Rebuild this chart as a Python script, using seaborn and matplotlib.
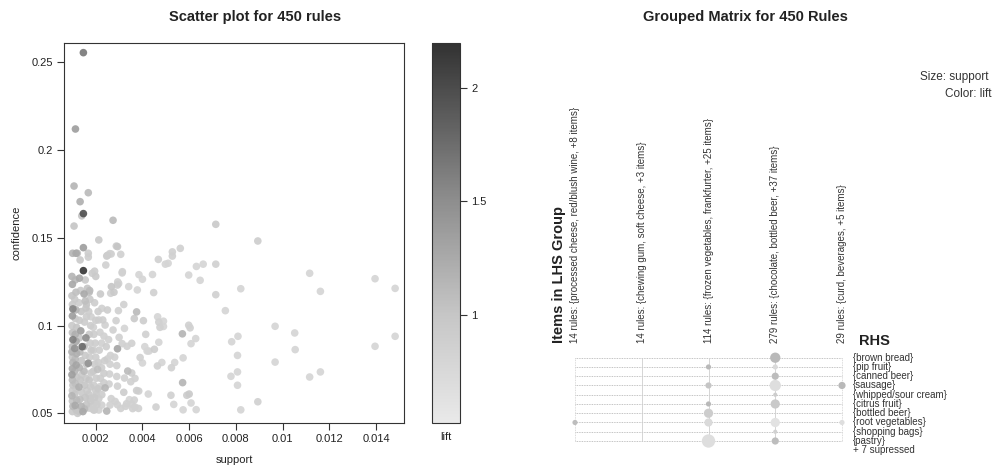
import numpy as np
import pandas as pd
import matplotlib
matplotlib.use("Agg")
import matplotlib.pyplot as plt
import matplotlib.colors as mcolors
from matplotlib.transforms import blended_transform_factory
import seaborn as sns

sns.set_theme(style="white")
plt.rcParams["font.family"] = ["Liberation Sans", "DejaVu Sans"]

# ---------------- scatter data (support x 1e-3, confidence, lift) ----------------
support_k = [
    1.47, 1.13, 1.07, 1.68, 1.33, 1.47, 1.40, 1.07, 2.74, 7.14, 8.94, 2.13, 1.47, 2.93, 1.01, 1.16,
    1.21, 1.68, 1.68, 1.33, 2.47, 2.66, 3.07, 5.28, 5.62, 5.28, 4.68, 5.10, 4.98, 6.31, 6.60, 7.14,
    5.98, 6.47, 7.14, 8.21, 11.16, 11.62, 13.96, 14.82, 7.55, 9.68, 10.52, 14.82, 13.96, 10.54, 9.68,
    11.16, 11.62, 8.09, 7.82, 8.07, 8.07, 7.79, 8.07, 8.21, 8.94, 5.98, 6.04, 5.71, 6.08, 6.28, 5.74,
    5.38, 5.24, 5.72, 6.00, 5.90, 6.08, 6.30, 5.74, 5.34, 5.22, 4.58, 4.25, 3.75, 3.68, 3.58, 3.44,
    3.32,
    3.85, 4.43, 4.00, 4.48, 3.78, 3.41, 3.13, 2.94, 2.78, 2.67, 3.75, 3.65, 4.04, 4.14, 4.65, 4.70,
    4.90, 4.75, 4.90, 4.51, 4.70, 4.83, 4.64, 4.00, 3.90, 4.28, 4.20, 4.10, 3.54, 3.34, 3.13, 2.93,
    3.00, 3.23, 2.74, 2.87, 2.97, 2.50, 2.30, 2.13, 2.18, 2.26, 2.40, 2.50, 2.63, 2.81, 2.90, 2.61,
    2.38, 2.11, 2.08, 2.35, 2.59, 2.90, 3.23, 3.37, 3.54, 3.68, 3.50, 3.84, 3.20, 2.93, 2.57, 2.35,
    2.18, 2.01, 2.26, 2.40, 2.66, 2.83, 2.61, 2.47, 2.93, 3.07, 3.28, 3.54, 3.65, 3.83, 2.13, 2.26,
    1.87, 1.94, 1.76, 1.97, 2.13,
    1.85, 1.95, 2.00, 2.43, 2.50, 2.60, 2.88, 3.14, 1.64, 1.74, 2.93, 2.98, 2.64, 2.20, 1.75, 1.95,
    1.60, 3.20, 2.10, 1.55, 1.60, 1.80, 2.00, 1.90,
    0.98, 1.00, 0.98, 1.00, 1.02, 1.00, 0.98, 1.00, 1.02, 1.00, 0.98, 1.00, 1.02, 1.00, 0.98, 1.00,
    1.02, 1.00, 0.98, 1.00, 1.02, 1.00,
    1.12, 1.15, 1.10, 1.15, 1.12, 1.18, 1.12, 1.16, 1.10, 1.18, 1.12, 1.16, 1.10, 1.18, 1.12, 1.16,
    1.10, 1.18, 1.12, 1.16, 1.22,
    1.30, 1.35, 1.28, 1.38, 1.30, 1.36, 1.30, 1.42, 1.32, 1.38, 1.30, 1.40, 1.34, 1.28, 1.40, 1.32,
    1.38, 1.30, 1.45,
    1.55, 1.50, 1.58, 1.52, 1.58, 1.50, 1.55, 1.60, 1.50, 1.58, 1.52, 1.62, 1.55, 1.60, 1.52,
    1.72, 1.70, 1.78, 1.72, 1.68, 1.76, 1.80, 1.74, 1.80, 1.72, 1.78, 1.70, 1.78, 1.72,
    1.92, 1.98, 1.90, 2.00, 1.95, 1.90, 2.02, 1.92, 2.00, 1.95, 2.05, 1.90, 2.10, 2.20, 2.25, 2.15,
    2.25, 2.35, 2.45, 2.55,
    1.47,
]
confidence = [
    .2555, .212, .1795, .1757, .1706, .1638, .1625, .1567, .160, .1577, .1482, .1488, .1444, .145, .1412, .1412,
    .1412, .1412, .139, .1374, .1396, .1408, .1406, .142, .144, .1396, .1377, .1355, .135, .1337, .135, .135,
    .1288, .1258, .1176, .121, .1298, .1195, .1267, .1212, .1085, .0996, .0958, .0939, .0882, .0863, .0792,
    .0707, .0736, .0939, .0908, .083, .0736, .0711, .066, .052, .0566, .1002, .0987, .0953, .0897, .0926, .0816,
    .079, .076, .0675, .061, .0603, .0559, .0521, .052, .0551, .0603, .0536, .061, .063, .0536, .0527, .0578,
    .0555,
    .129, .1291, .1264, .1188, .1203, .1222, .130, .1249, .119, .1222, .1078, .104, .1028, .095, .105, .102,
    .1025, .099, .0995, .0865, .0905, .079, .077, .0787, .0818, .0855, .0855, .088, .0899, .0882, .0897, .0868,
    .0933, .0984, .0975, .1028, .1085, .1089, .1032, .1032, .0962, .1098, .1003, .081, .083, .082, .0772, .078,
    .080, .079, .075, .0728, .0724, .071, .0701, .0741, .073, .0699, .068, .0627, .062, .0655, .0667, .0674,
    .0652, .0608, .0606, .0645, .0584, .0568, .0547, .0513, .0549, .0528, .054, .0553, .0576, .0528, .0519, .0547,
    .0542, .0519, .0585, .0562, .0584,
    .1298, .131, .128, .1345, .140, .141, .1453, .1307, .1212, .120, .1231, .124, .1184, .118, .115, .113,
    .112, .112, .108, .114, .105, .105, .103, .099,
    .128, .1235, .117, .112, .1095, .1055, .100, .096, .092, .088, .085, .082, .079, .0755, .072, .069,
    .066, .063, .060, .057, .054, .051,
    .126, .119, .115, .109, .104, .099, .095, .091, .087, .084, .081, .0775, .074, .0705, .067, .064,
    .061, .0575, .0545, .052, .050,
    .127, .120, .113, .108, .103, .097, .093, .088, .085, .080, .076, .072, .069, .065, .062, .058,
    .054, .051, .051,
    .126, .118, .110, .102, .093, .088, .083, .078, .074, .070, .066, .063, .059, .055, .0525,
    .119, .108, .100, .095, .0785, .090, .086, .082, .073, .069, .065, .061, .057, .053,
    .095, .090, .086, .082, .078, .074, .070, .066, .063, .059, .055, .052, .064, .070, .076, .086,
    .090, .094, .088, .092,
    .1313,
]
lift = [
    1.65, 1.35, 1.15, 1.10, 1.20, 1.95, 1.00, 1.00, 1.10, 0.95, 0.90, 0.95, 1.35, 1.00, 1.15, 1.25,
    1.05, 0.90, 0.90, 0.95, 0.90, 0.85, 0.85, 0.85, 0.85, 0.85, 0.85, 0.80, 0.80, 0.80, 0.80, 0.85,
    0.80, 0.80, 0.85, 0.80, 0.80, 0.80, 0.80, 0.80, 0.80, 0.80, 0.80, 0.80, 0.80, 0.80, 0.80,
    0.80, 0.80, 0.80, 0.80, 0.80, 0.80, 0.80, 0.80, 0.80, 0.85, 0.85, 0.85, 1.15, 0.80, 0.80, 0.80,
    0.80, 0.85, 1.15, 0.95, 0.90, 0.80, 0.80, 0.80, 0.80, 0.85, 0.85, 0.80, 0.90, 0.85, 0.85, 0.80,
    0.85,
    0.80, 0.80, 0.80, 0.85, 0.80, 0.80, 0.85, 0.85, 0.95, 1.00, 1.10, 0.95, 0.90, 0.85, 0.80, 0.85,
    0.80, 0.85, 0.80, 0.90, 0.80, 0.80, 0.85, 0.80, 0.85, 0.80, 0.80, 0.80, 0.85, 0.85, 0.85, 1.30,
    0.85, 0.80, 0.85, 0.85, 0.85, 0.90, 0.90, 0.85, 0.85, 0.85, 0.85, 0.85, 0.85, 0.85, 0.85, 0.85,
    0.90, 0.90, 1.05, 0.90, 0.85, 0.85, 0.85, 1.10, 0.90, 0.85, 0.85, 0.85, 0.90, 0.85, 0.85, 0.90,
    0.85, 0.90, 0.90, 1.15, 0.85, 0.85, 0.85, 1.15, 0.85, 0.85, 0.85, 0.85, 0.85, 0.85, 0.85, 0.85,
    0.90, 0.90, 0.90, 0.85, 0.90,
    0.90, 0.90, 0.95, 0.85, 0.90, 0.85, 0.90, 0.85, 1.00, 1.10, 0.90, 0.85, 0.85, 0.95, 0.95, 0.90,
    1.00, 0.85, 0.90, 1.05, 0.90, 0.85, 0.90, 0.85,
    1.15, 1.25, 1.00, 0.95, 1.55, 1.35, 0.95, 1.05, 1.60, 1.10, 1.20, 1.00, 1.15, 1.25, 1.35, 1.10,
    1.00, 0.95, 1.15, 1.00, 1.10, 0.95,
    1.10, 1.05, 0.95, 1.15, 0.95, 1.00, 1.20, 1.25, 1.45, 1.20, 1.10, 1.30, 1.15, 1.00, 1.05, 0.95,
    1.00, 1.10, 1.25, 1.00, 0.95,
    1.25, 0.95, 0.90, 1.00, 0.95, 1.35, 1.00, 1.75, 1.10, 1.00, 1.15, 0.95, 1.00, 1.20, 0.95, 1.05,
    1.15, 1.00, 1.25,
    0.95, 1.25, 1.00, 0.90, 1.50, 1.10, 0.95, 1.00, 1.10, 0.95, 1.00, 0.90, 1.00, 1.00, 1.10,
    1.05, 0.90, 0.90, 0.95, 1.45, 0.90, 0.95, 0.90, 0.95, 1.00, 0.95, 0.95, 0.95, 0.90,
    0.90, 0.90, 0.90, 0.90, 0.90, 0.95, 0.90, 0.90, 0.90, 0.95, 0.90, 0.90, 0.95, 0.90, 0.90, 0.90,
    0.85, 0.85, 0.90, 0.85,
    2.15,
]

x_ticks = [0.002, 0.004, 0.006, 0.008, 0.010, 0.012, 0.014]
x_ticklabels = ["0.002", "0.004", "0.006", "0.008", "0.01", "0.012", "0.014"]
y_ticks = [0.05, 0.10, 0.15, 0.20, 0.25]
y_ticklabels = ["0.05", "0.1", "0.15", "0.2", "0.25"]
cbar_ticks = [1.0, 1.5, 2.0]
cbar_ticklabels = ["1", "1.5", "2"]

# ---------------- grouped matrix data ----------------
lhs_groups = [
    "14 rules: {processed cheese, red/blush wine, +8 items}",
    "14 rules: {chewing gum, soft cheese, +3 items}",
    "114 rules: {frozen vegetables, frankfurter, +25 items}",
    "279 rules: {chocolate, bottled beer, +37 items}",
    "29 rules: {curd, beverages, +5 items}",
]
rhs_items = [
    "{brown bread}", "{pip fruit}", "{canned beer}", "{sausage}", "{whipped/sour cream}",
    "{citrus fruit}", "{bottled beer}", "{root vegetables}", "{shopping bags}", "{pastry}",
]
cell_lhs = [4, 3, 4, 4, 3, 4, 5, 4, 3, 4, 3, 1, 3, 4, 5, 4, 3, 4]
cell_rhs = [1, 2, 2, 3, 4, 4, 4, 5, 6, 6, 7, 8, 8, 8, 8, 9, 10, 10]
cell_support = [0.0100, 0.0025, 0.0025, 0.0049, 0.0036, 0.0121, 0.0049, 0.0016, 0.0025, 0.0081,
                0.0081, 0.0025, 0.0064, 0.0081, 0.0025, 0.0016, 0.0169, 0.0049]
cell_lift = [1.25, 1.25, 0.85, 1.20, 1.10, 0.80, 1.25, 1.00, 1.25, 1.05,
             1.00, 1.20, 0.85, 0.75, 0.80, 0.95, 0.80, 1.20]

W, H = 992, 473
fig = plt.figure(figsize=(W / 100, H / 100), dpi=100)
fig.patch.set_facecolor("white")

def fx(px):
    return px / W

def fy(py):
    return 1 - py / H

# ---------------- left: scatter ----------------
lo, hi = 0.526, 2.196
cmap = mcolors.LinearSegmentedColormap.from_list(
    "grays",
    [(0.0, "#e9e9e9"), ((1.0 - lo) / (hi - lo), "#c6c6c6"),
     ((1.5 - lo) / (hi - lo), "#8e8e8e"), (1.0, "#323232")])
norm = mcolors.Normalize(vmin=lo, vmax=hi)

df = pd.DataFrame({"support": np.array(support_k) / 1000.0,
                   "confidence": confidence, "lift": lift})
df = df.sort_values("lift", kind="stable")

ax = fig.add_axes([fx(64), fy(423), fx(404) - fx(64), fy(43) - fy(423)])
sns.scatterplot(data=df, x="support", y="confidence", hue="lift", palette=cmap,
                hue_norm=norm, s=30, linewidth=0, alpha=0.92, legend=False, ax=ax, zorder=3)
ax.set_xlim(0.00064, 0.0152)
ax.set_ylim(0.0445, 0.261)
ax.set_xticks(x_ticks)
ax.set_xticklabels(x_ticklabels)
ax.set_yticks(y_ticks)
ax.set_yticklabels(y_ticklabels)
ax.tick_params(axis="both", direction="out", length=5, width=0.8, color="#333333",
               labelsize=8, labelcolor="#222222", pad=3,
               bottom=True, left=True)
for sp in ax.spines.values():
    sp.set_color("#333333")
    sp.set_linewidth(0.8)
ax.set_xlabel("support", fontsize=8, color="#222222", labelpad=8)
ax.set_ylabel("confidence", fontsize=8, color="#222222", labelpad=7)
fig.text(fx(255), fy(17), "Scatter plot for 450 rules", ha="center", va="center",
         fontsize=10.5, fontweight="bold", color="#222222")

cax = fig.add_axes([fx(432), fy(423), fx(460) - fx(432), fy(43) - fy(423)])
sm = matplotlib.cm.ScalarMappable(norm=norm, cmap=cmap)
cb = fig.colorbar(sm, cax=cax)
cb.set_ticks(cbar_ticks)
cb.set_ticklabels(cbar_ticklabels)
cb.outline.set_edgecolor("#333333")
cb.outline.set_linewidth(0.8)
cax.tick_params(direction="out", length=5, width=0.8, color="#333333",
                labelsize=8, labelcolor="#222222", pad=3)
fig.text(fx(446), fy(437), "lift", ha="center", va="center", fontsize=8, color="#222222")

# ---------------- right: grouped matrix ----------------
ax2 = fig.add_axes([fx(575), fy(441), fx(842) - fx(575), fy(357.7) - fy(441)])

for r in range(1, 11):
    ax2.plot([1, 5], [r, r], color="#b0b0b0", lw=0.6, ls=(0, (1, 1)), zorder=1, clip_on=False)
for c in range(1, 6):
    style = (0, (1, 1)) if c in (1, 5) else "-"
    ax2.plot([c, c], [1, 10], color="#cfcfcf", lw=0.6, ls=style, zorder=1, clip_on=False)

mdf = pd.DataFrame({"lhs": cell_lhs, "rhs": cell_rhs,
                    "support": cell_support, "lift": cell_lift})
mcmap = mcolors.LinearSegmentedColormap.from_list("mgrays", ["#e6e6e6", "#9c9c9c"])
sns.scatterplot(data=mdf, x="lhs", y="rhs", size="support", sizes=(9, 92),
                size_norm=(0.0016, 0.0169), hue="lift", palette=mcmap,
                hue_norm=(0.7, 1.6), linewidth=0, legend=False, ax=ax2,
                zorder=3, clip_on=False)
ax2.set_xlim(1, 5)
ax2.set_ylim(10, 1)
ax2.axis("off")

for i, lab in enumerate(lhs_groups):
    ax2.text(i + 1, -0.55, lab, rotation=90, ha="center", va="bottom",
             fontsize=7, color="#333333")

tr = blended_transform_factory(fig.transFigure, ax2.transData)
for j, lab in enumerate(rhs_items):
    ax2.text(fx(853), j + 1, lab, transform=tr, ha="left", va="center",
             fontsize=7, color="#333333")
ax2.text(fx(853), 11, "+ 7 supressed", transform=tr, ha="left", va="center",
         fontsize=7, color="#333333")

fig.text(fx(559), fy(343), "Items in LHS Group", rotation=90, ha="center", va="bottom",
         fontsize=10.5, fontweight="bold", color="#222222")
fig.text(fx(859), fy(341), "RHS", ha="left", va="center",
         fontsize=10.5, fontweight="bold", color="#222222")
fig.text(fx(745), fy(17), "Grouped Matrix for 450 Rules", ha="center", va="center",
         fontsize=10.5, fontweight="bold", color="#222222")
fig.text(fx(920), fy(77), "Size: support", ha="left", va="center", fontsize=8.5, color="#333333")
fig.text(fx(945), fy(94), "Color: lift", ha="left", va="center", fontsize=8.5, color="#333333")

fig.savefig("out.png", dpi=100, facecolor="white")
